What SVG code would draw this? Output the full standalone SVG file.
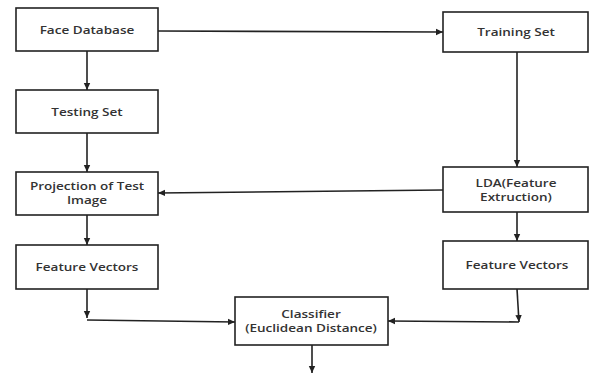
<svg xmlns="http://www.w3.org/2000/svg" width="590" height="374" viewBox="0 0 590 374">
<style>
.box{fill:#fff;stroke:#222;stroke-width:1.6}
.t{font-family:"Open Sans","Noto Sans",sans-serif;font-weight:600;font-size:11px;fill:#333;text-anchor:middle}
.c{fill:none;stroke:#222;stroke-width:1.6;marker-end:url(#ah)}
</style>
<defs>
<marker id="ah" markerWidth="8" markerHeight="8" refX="7" refY="4" orient="auto" markerUnits="userSpaceOnUse">
<path d="M0,0.8 L7,4 L0,7.2 Z" fill="#222"/>
</marker>
</defs>
<g id="face-database"><rect class="box" x="16" y="8" width="142" height="43"/><text class="t" transform="translate(87,34) scale(1.23,1)">Face Database</text></g>
<g id="training-set"><rect class="box" x="443" y="12" width="145" height="40"/><text class="t" transform="translate(516,36) scale(1.23,1)">Training Set</text></g>
<g id="testing-set"><rect class="box" x="16" y="90" width="142" height="43"/><text class="t" transform="translate(87,116) scale(1.23,1)">Testing Set</text></g>
<g id="projection"><rect class="box" x="16" y="172" width="142" height="43"/><text class="t" transform="translate(87,190) scale(1.23,1)">Projection of Test</text><text class="t" transform="translate(87,204) scale(1.23,1)">Image</text></g>
<g id="lda"><rect class="box" x="443" y="167" width="145" height="45"/><text class="t" transform="translate(516,187) scale(1.23,1)">LDA(Feature</text><text class="t" transform="translate(516,201) scale(1.23,1)">Extruction)</text></g>
<g id="feature-vectors-left"><rect class="box" x="16" y="245" width="142" height="44"/><text class="t" transform="translate(87,271) scale(1.23,1)">Feature Vectors</text></g>
<g id="feature-vectors-right"><rect class="box" x="443" y="241" width="145" height="48"/><text class="t" transform="translate(517,269) scale(1.23,1)">Feature Vectors</text></g>
<g id="classifier"><rect class="box" x="235" y="297" width="153" height="48"/><text class="t" transform="translate(311,318) scale(1.23,1)">Classifier</text><text class="t" transform="translate(311,332) scale(1.23,1)">(Euclidean Distance)</text></g>
<g id="connectors">
<path class="c" d="M158,31 L443,32"/>
<path class="c" d="M87,51 L87,90"/>
<path class="c" d="M87,133 L87,172"/>
<path class="c" d="M517,52 L517,167"/>
<path class="c" d="M443,190 L158,193"/>
<path class="c" d="M87,215 L87,245"/>
<path class="c" d="M517,212 L517,241"/>
<path class="c" d="M87,289 L87,318"/>
<path class="c" d="M87,320 L235,322"/>
<path class="c" d="M517,289 L519,322"/>
<path class="c" d="M519,322 L388,321"/>
<path class="c" d="M312,345 L312,373"/>
</g>
</svg>
